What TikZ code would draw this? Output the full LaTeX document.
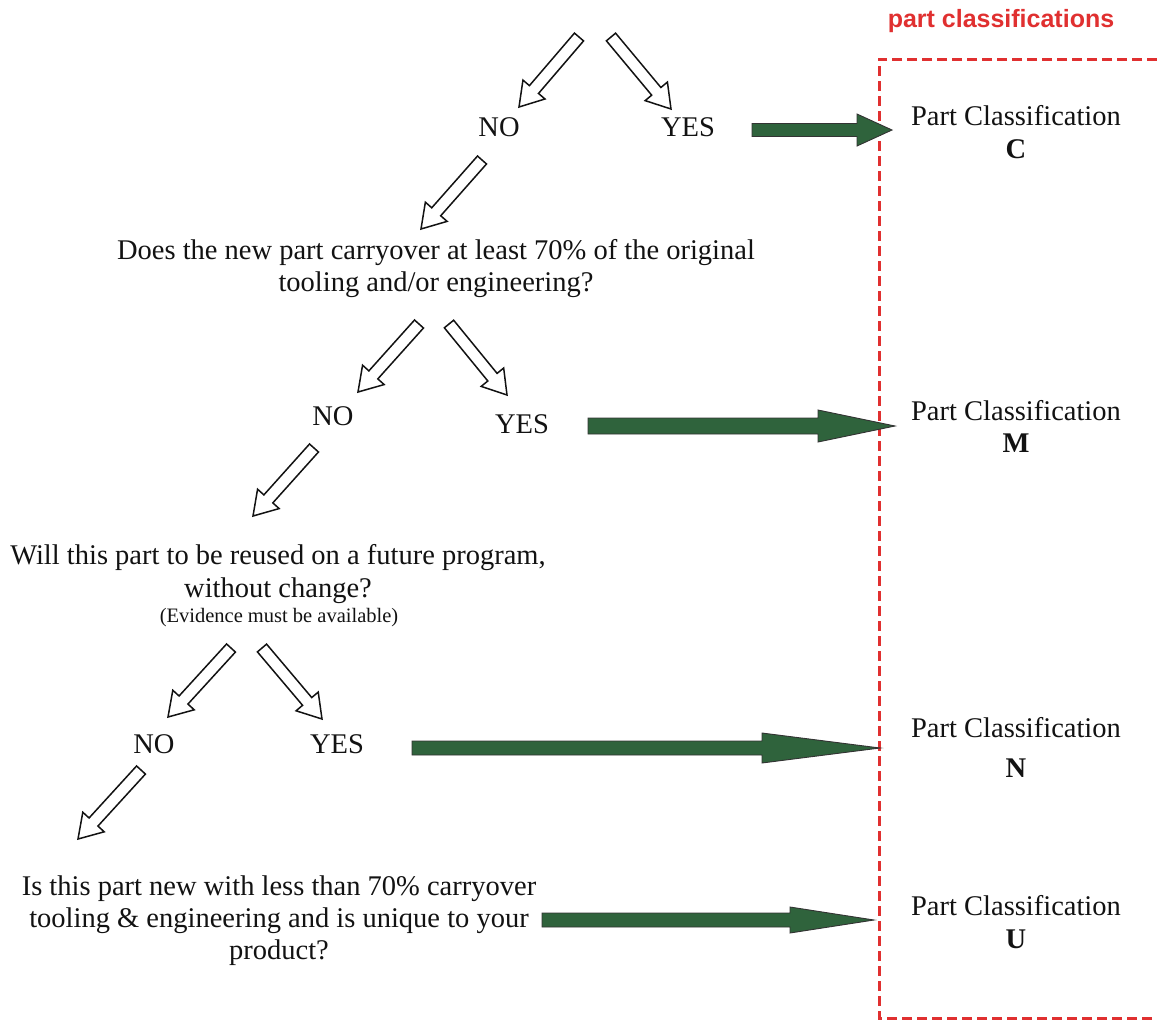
\documentclass[tikz,border=0pt]{standalone}
\usepackage{fontspec}
\setmainfont{Liberation Serif}
\newfontfamily\headfont{Liberation Sans}
\usetikzlibrary{calc}

\definecolor{boxred}{RGB}{224,48,48}
\definecolor{flowgreen}{RGB}{47,99,60}
\definecolor{ink}{RGB}{18,18,18}

\tikzset{
  txt/.style={font=\fontsize{28.5}{32}\selectfont, text=ink, inner sep=0pt, anchor=base},
  smalltxt/.style={font=\fontsize{20.5}{24}\selectfont, text=ink, inner sep=0pt, anchor=base},
  classtxt/.style={txt},
  heading/.style={font=\headfont\bfseries\fontsize{25}{30}\selectfont, text=boxred, inner sep=0pt, anchor=base},
  classbox/.style={draw=boxred, line width=3pt, dash pattern=on 10pt off 5pt},
  hollow/.style={draw=ink, fill=white, line width=1.5pt, line join=miter},
  greenshaft/.style={draw=black!80, fill=flowgreen, line width=0.9pt, line join=miter}
}

% outlined block arrow from tail #1 to tip #2
\newcommand\hollowarrow[2]{%
  \coordinate (#1-neck) at ($(#2)!23pt!(#1)$);
  \draw[hollow] ($(#1)!6pt!90:(#2)$) -- ($(#1-neck)!6pt!-90:(#1)$)
     -- ($(#1-neck)!14.5pt!-90:(#1)$) -- (#2)
     -- ($(#1-neck)!14.5pt!90:(#1)$) -- ($(#1-neck)!6pt!90:(#1)$)
     -- ($(#1)!6pt!-90:(#2)$) -- cycle;}

% filled horizontal arrow: tail, tip, head length, shaft half width, head half width
\newcommand\greenarrow[5]{%
  \draw[greenshaft] ($(#1)+(0,-#4)$) -- ($(#2)+(-#3,-#4)$) -- ($(#2)+(-#3,-#5)$)
     -- (#2) -- ($(#2)+(-#3,#5)$) -- ($(#2)+(-#3,#4)$) -- ($(#1)+(0,#4)$) -- cycle;}

\begin{document}
\begin{tikzpicture}[x=1pt,y=-1pt]
\useasboundingbox (0,0) rectangle (1157,1021);

% classification column
\node[heading] (head) at (1001,27) {part classifications};
\draw[classbox] (1157,59) -- (879,59) -- (879,1018) -- (1157,1018);

\node[classtxt] (clsC) at (1016,125) {Part Classification};
\node[classtxt] (clsCl) at (1016,158) {\bfseries C};
\node[classtxt] (clsM) at (1016,420) {Part Classification};
\node[classtxt] (clsMl) at (1016,452) {\bfseries M};
\node[classtxt] (clsN) at (1016,737) {Part Classification};
\node[classtxt] (clsNl) at (1016,777) {\bfseries N};
\node[classtxt] (clsU) at (1016,915) {Part Classification};
\node[classtxt] (clsUl) at (1016,948) {\bfseries U};

% first decision
\node[txt] (no1) at (499,136) {NO};
\node[txt] (yes1) at (688,136) {YES};

% second decision
\node[txt] (q1a) at (436,259) {Does the new part carryover at least 70\% of the original};
\node[txt] (q1b) at (436,291) {tooling and/or engineering?};
\node[txt] (no2) at (333,425) {NO};
\node[txt] (yes2) at (522,433) {YES};

% third decision
\node[txt] (q2a) at (278,564) {Will this part to be reused on a future program,};
\node[txt] (q2b) at (278,597) {without change?};
\node[smalltxt] (q2c) at (279,622) {(Evidence must be available)};
\node[txt] (no3) at (154,753) {NO};
\node[txt] (yes3) at (337,753) {YES};

% last question
\node[txt] (q3a) at (279,895) {Is this part new with less than 70\% carryover};
\node[txt] (q3b) at (279,927) {tooling \& engineering and is unique to your};
\node[txt] (q3c) at (279,959) {product?};

% branch arrows
\coordinate (a1t) at (579,37);  \coordinate (a1h) at (519,107);
\coordinate (b1t) at (611,37);  \coordinate (b1h) at (671,109);
\coordinate (c1t) at (482,160); \coordinate (c1h) at (421,229);
\coordinate (a2t) at (419,324); \coordinate (a2h) at (358,392);
\coordinate (b2t) at (449,324); \coordinate (b2h) at (507,395);
\coordinate (c2t) at (314,448); \coordinate (c2h) at (253,516);
\coordinate (a3t) at (231,648); \coordinate (a3h) at (168,717);
\coordinate (b3t) at (262,648); \coordinate (b3h) at (322,719);
\coordinate (c3t) at (141,770); \coordinate (c3h) at (78,839);
\foreach \t/\h in {a1t/a1h,b1t/b1h,c1t/c1h,a2t/a2h,b2t/b2h,c2t/c2h,a3t/a3h,b3t/b3h,c3t/c3h}
  {\hollowarrow{\t}{\h}}

% links to the classifications
\coordinate (gC0) at (752,130); \coordinate (gC1) at (892,130);
\coordinate (gM0) at (588,426); \coordinate (gM1) at (895,426);
\coordinate (gN0) at (412,748); \coordinate (gN1) at (880,748);
\coordinate (gU0) at (542,920); \coordinate (gU1) at (874,920);
\greenarrow{gC0}{gC1}{35}{6.5}{16}
\greenarrow{gM0}{gM1}{77}{8}{16}
\greenarrow{gN0}{gN1}{118}{7}{15}
\greenarrow{gU0}{gU1}{84}{7}{13}
\end{tikzpicture}
\end{document}
